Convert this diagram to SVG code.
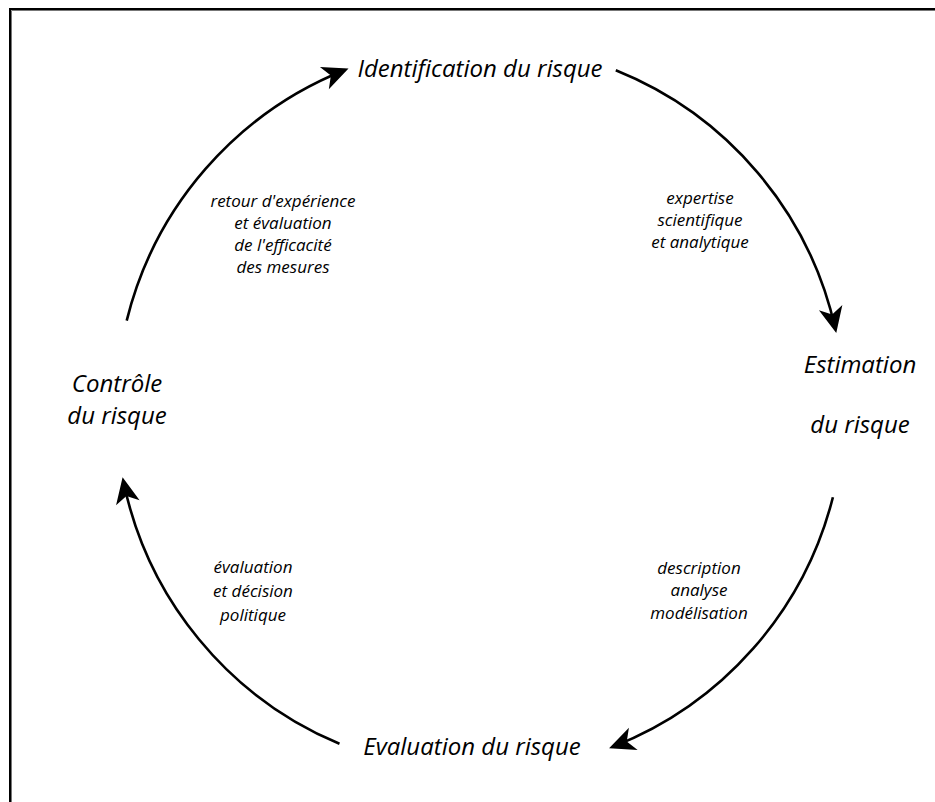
<svg xmlns="http://www.w3.org/2000/svg" width="935" height="802" viewBox="0 0 935 802">
  <style>
    .stage { font-family: "Open Sans", "Noto Sans", "Liberation Sans", sans-serif; font-style: italic; font-size: 24px; fill: #000; text-anchor: middle; }
    .note { font-family: "Open Sans", "Noto Sans", "Liberation Sans", sans-serif; font-style: italic; font-size: 17px; fill: #000; text-anchor: middle; }
    .flow { fill: none; stroke: #000; stroke-width: 2.6; marker-end: url(#head); }
  </style>
  <defs>
    <marker id="head" markerUnits="userSpaceOnUse" markerWidth="34" markerHeight="30" viewBox="-28 -15 34 30" refX="0" refY="0" orient="auto">
      <path d="M4,0 L-22,-12 L-15,0 L-22,12 Z" fill="#000"/>
    </marker>
  </defs>
  <rect width="935" height="802" fill="#fff"/>

  <!-- frame: top and left edges only -->
  <g id="frame">
    <polyline points="10,802 10,9 935,9" fill="none" stroke="#000" stroke-width="2"/>
    <polyline points="11.5,802 11.5,10.5 935,10.5" fill="none" stroke="#777" stroke-width="1"/>
  </g>

  <!-- cycle arcs, centre (480,408), r 364 -->
  <g id="connectors">
    <path class="flow" d="M126.7,320.6 A364,364 0 0 1 344.8,70.0"/>
    <path class="flow" d="M615.8,70.3 A364,364 0 0 1 835.4,329.2"/>
    <path class="flow" d="M832.9,497.3 A364,364 0 0 1 612.8,746.9"/>
    <path class="flow" d="M339.5,743.8 A364,364 0 0 1 123.4,481.2"/>
  </g>

  <g id="identification">
    <text class="stage" x="480" y="77">Identification du risque</text>
  </g>
  <g id="estimation">
    <text class="stage" x="860" y="373">Estimation</text>
    <text class="stage" x="860" y="433">du risque</text>
  </g>
  <g id="evaluation">
    <text class="stage" x="472" y="755">Evaluation du risque</text>
  </g>
  <g id="controle">
    <text class="stage" x="117" y="392">Contrôle</text>
    <text class="stage" x="117" y="424">du risque</text>
  </g>

  <g id="label-expertise">
    <text class="note" x="700" y="204">expertise</text>
    <text class="note" x="700" y="226">scientifique</text>
    <text class="note" x="700" y="248">et analytique</text>
  </g>
  <g id="label-description">
    <text class="note" x="699" y="574">description</text>
    <text class="note" x="699" y="596">analyse</text>
    <text class="note" x="699" y="619">modélisation</text>
  </g>
  <g id="label-decision">
    <text class="note" x="253" y="573">évaluation</text>
    <text class="note" x="253" y="597">et décision</text>
    <text class="note" x="253" y="621">politique</text>
  </g>
  <g id="label-retour">
    <text class="note" x="283" y="207">retour d'expérience</text>
    <text class="note" x="283" y="229">et évaluation</text>
    <text class="note" x="283" y="251">de l'efficacité</text>
    <text class="note" x="283" y="273">des mesures</text>
  </g>
</svg>
